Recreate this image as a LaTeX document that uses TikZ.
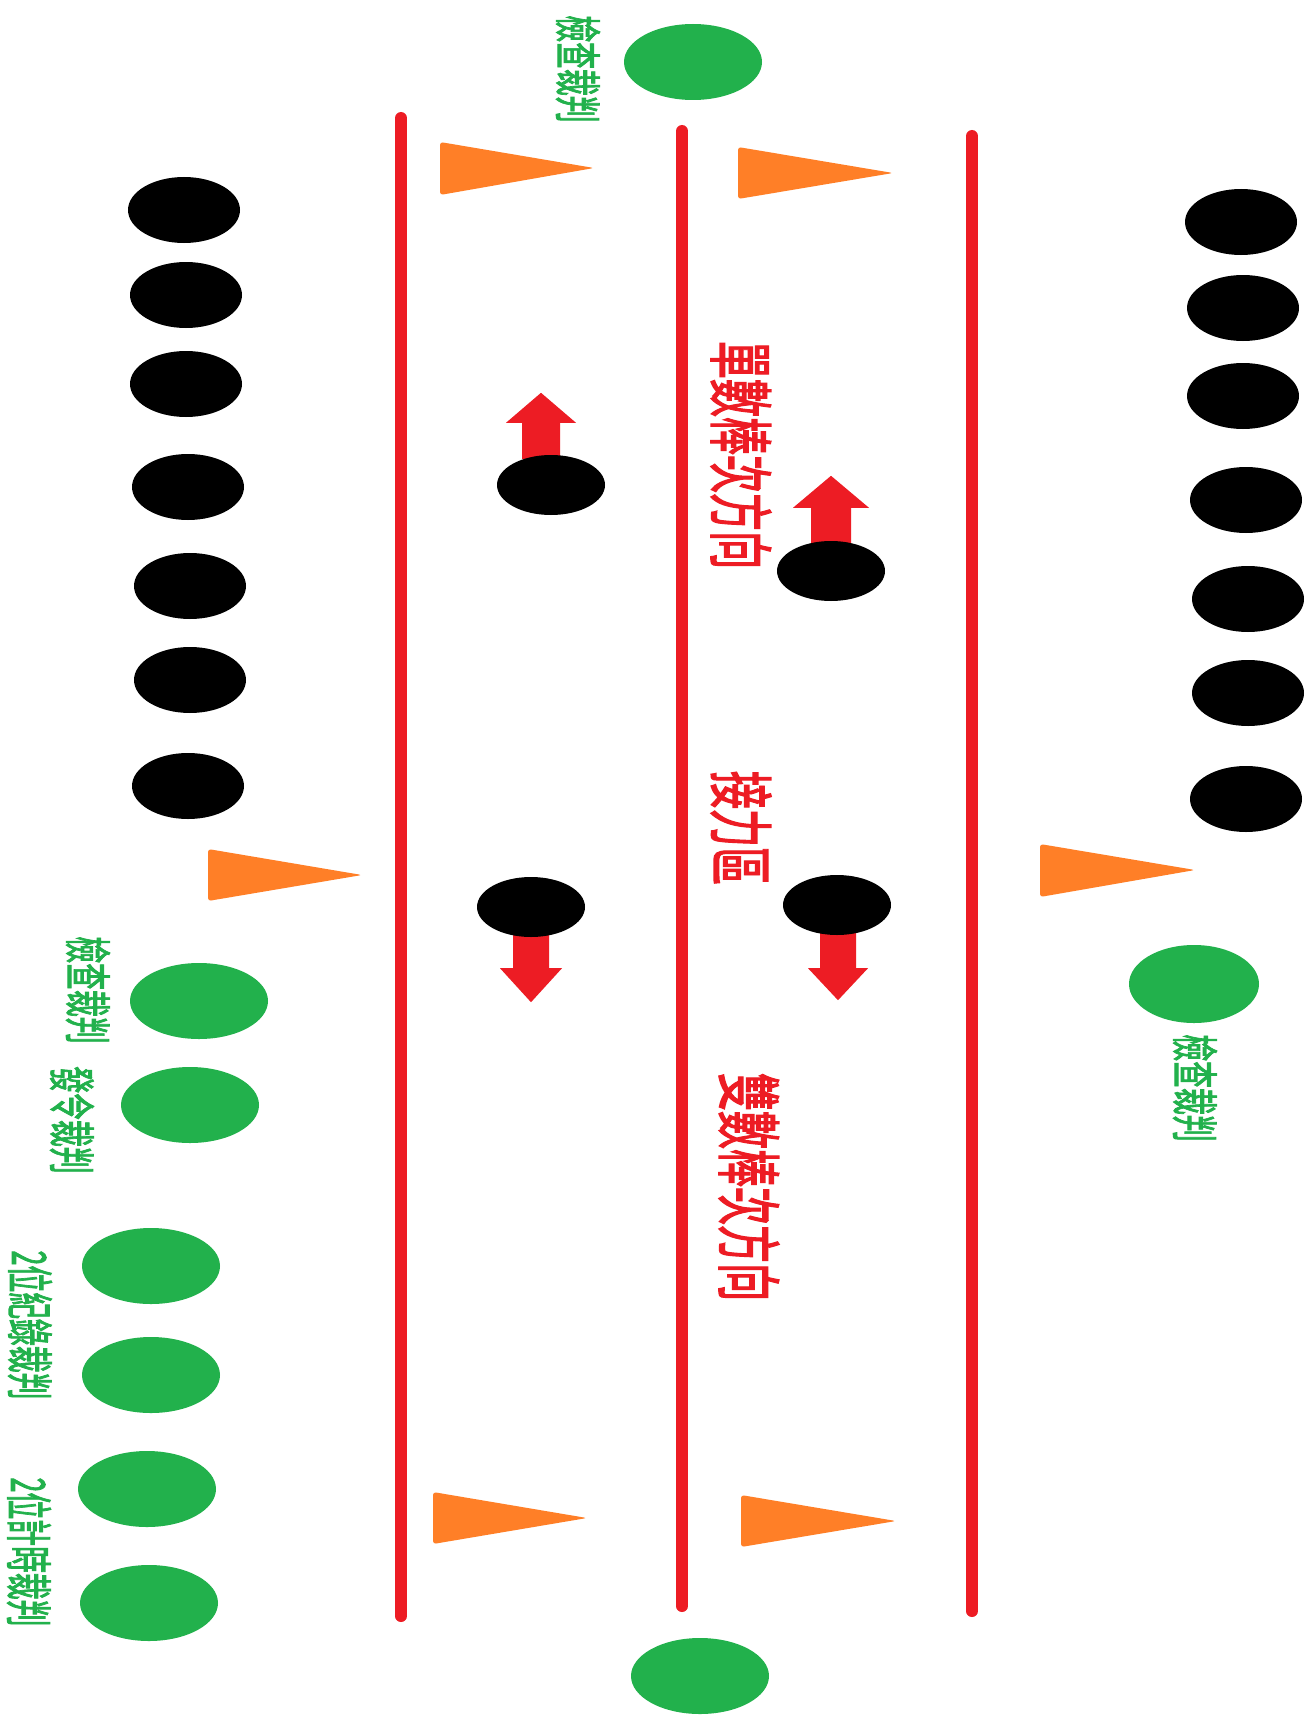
\documentclass[tikz,border=0pt]{standalone}
\usepackage{fontspec}
\newfontfamily\cjk{Noto Sans CJK TC}[FakeBold=2.5]
\usetikzlibrary{shapes.geometric}
\definecolor{redc}{HTML}{ED1C24}
\definecolor{greenc}{HTML}{22B14C}
\definecolor{orangec}{HTML}{FF7F27}
\pgfdeclarelayer{background}
\pgfsetlayers{background,main}
\begin{document}
\begin{tikzpicture}[x=1pt,y=-1pt,
  runner/.style={ellipse,fill=black,inner sep=0pt,minimum width=112pt,minimum height=66pt},
  mover/.style={ellipse,fill=black,inner sep=0pt,minimum width=108pt,minimum height=60pt},
  judge/.style={ellipse,fill=greenc,inner sep=0pt,minimum width=138pt,minimum height=76pt},
  lane/.style={draw=redc,line width=12pt,line cap=round},
  cone/.style={fill=orangec,rounded corners=3pt},
  blockarrow/.style={fill=redc},
  redlabel/.style={rotate=-90,inner sep=0pt,text=redc,font=\cjk\fontsize{65}{65}\selectfont},
  greenlabel/.style={rotate=-90,inner sep=0pt,text=greenc,font=\cjk\fontsize{47}{47}\selectfont}]
\useasboundingbox (0,0) rectangle (1309,1715);

% lane lines
\coordinate (l1t) at (401,118); \coordinate (l1b) at (401,1616);
\coordinate (l2t) at (682,131); \coordinate (l2b) at (682,1606);
\coordinate (l3t) at (972,136); \coordinate (l3b) at (972,1611);
\draw[lane] (l1t) -- (l1b);
\draw[lane] (l2t) -- (l2b);
\draw[lane] (l3t) -- (l3b);

% cones
\fill[cone] (440,142) -- (594,168) -- (440,195) -- cycle;
\fill[cone] (738,147) -- (893,173) -- (738,199) -- cycle;
\fill[cone] (208,849) -- (362,875) -- (208,901) -- cycle;
\fill[cone] (1040,844) -- (1195,870) -- (1040,897) -- cycle;
\fill[cone] (433,1492) -- (587,1518) -- (433,1544) -- cycle;
\fill[cone] (741,1495) -- (896,1521) -- (741,1547) -- cycle;

% waiting runners, left
\node[runner] (la) at (184,210) {};
\node[runner] (lb) at (186,295) {};
\node[runner] (lc) at (186,384) {};
\node[runner] (ld) at (188,487) {};
\node[runner] (le) at (190,586) {};
\node[runner] (lf) at (190,680) {};
\node[runner] (lg) at (188,786) {};
% waiting runners, right
\node[runner] (ra) at (1241,222) {};
\node[runner] (rb) at (1243,308) {};
\node[runner] (rc) at (1243,396) {};
\node[runner] (rd) at (1246,500) {};
\node[runner] (re) at (1248,599) {};
\node[runner] (rf) at (1248,693) {};
\node[runner] (rg) at (1246,799) {};

% runners in the zone
\node[mover] (m1) at (551,485) {};
\node[mover] (m2) at (831,571) {};
\node[mover] (m3) at (531,907) {};
\node[mover] (m4) at (837,905) {};

% block arrows (behind the runners)
\begin{pgfonlayer}{background}
\fill[white] (0,0) rectangle (1309,1715);
\fill[blockarrow,shift={([xshift=-10pt]m1.north)}] (-19,4) -- (-19,-32) -- (-35,-32) -- (0,-62) -- (35,-32) -- (19,-32) -- (19,4) -- cycle;
\fill[blockarrow,shift={(m2.north)}] (-20,4) -- (-20,-33) -- (-38,-33) -- (0,-65) -- (38,-33) -- (20,-33) -- (20,4) -- cycle;
\fill[blockarrow,shift={(m3.south)}] (-18,-4) -- (-18,31) -- (-31,31) -- (0,65) -- (31,31) -- (18,31) -- (18,-4) -- cycle;
\fill[blockarrow,shift={([xshift=1pt]m4.south)}] (-18,-4) -- (-18,33) -- (-30,33) -- (0,65) -- (30,33) -- (18,33) -- (18,-4) -- cycle;
\end{pgfonlayer}

% judges
\node[judge] (jt) at (693,62) {};
\node[judge] (j1) at (199,1001) {};
\node[judge] (j2) at (190,1105) {};
\node[judge] (j3) at (151,1266) {};
\node[judge] (j4) at (151,1375) {};
\node[judge] (j5) at (147,1489) {};
\node[judge] (j6) at (149,1603) {};
\node[judge,minimum width=130pt,minimum height=78pt] (jr) at (1194,984) {};
\node[judge] (jb) at (700,1676) {};

% labels
\node[greenlabel] (tjt) at (578,69) {\scalebox{0.57}[1]{檢查裁判}};
\node[greenlabel] (tj1) at (88,990) {\scalebox{0.57}[1]{檢查裁判}};
\node[greenlabel] (tj2) at (72,1120) {\scalebox{0.57}[1]{發令裁判}};
\node[greenlabel] (tj3) at (30,1325) {\scalebox{0.57}[1]{2位紀錄裁判}};
\node[greenlabel] (tj4) at (29,1552) {\scalebox{0.57}[1]{2位計時裁判}};
\node[greenlabel] (tjr) at (1195,1088) {\scalebox{0.57}[1]{檢查裁判}};
\node[redlabel] (odd) at (741,455) {\scalebox{0.585}[1]{單數棒次方向}};
\node[redlabel] (zone) at (741,828) {\scalebox{0.585}[1]{接力區}};
\node[redlabel] (even) at (749,1187) {\scalebox{0.585}[1]{雙數棒次方向}};
\end{tikzpicture}
\end{document}
